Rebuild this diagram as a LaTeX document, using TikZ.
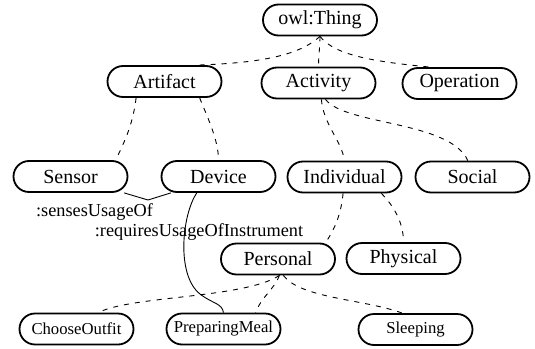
\documentclass[tikz,border=0pt]{standalone}
\usepackage{fontspec}
\setmainfont{Liberation Serif}
\usepackage{tikz}
\usetikzlibrary{calc}
\tikzset{
cls/.style={rectangle,rounded corners=15.5pt,draw,black,line width=1.8pt,align=center,inner sep=0pt,minimum width=114pt,minimum height=31pt,fill=white,anchor=center,font=\fontsize{20}{24}\selectfont},
leaf/.style={cls,font=\fontsize{16.7}{20}\selectfont},
rel/.style={font=\fontsize{18.3}{22}\selectfont,inner sep=0pt},
line/.style={black,line width=0.9pt}
}

\begin{document}
\begin{tikzpicture}[x=1pt,y=-1pt]
    \tikzset{
      isa/.style={line, dash pattern=on 5pt off 6pt},
      uses/.style={line},
    }
    \useasboundingbox (0,0) rectangle (535,348);
    {
      \node[cls](thing) at (320,20) {owl:Thing};
      \node[cls](artifact) at (164.5,81.5) {Artifact};
      \node[cls](activity) at (318.5,83) {Activity};
      \node[cls](operation) at (459.5,83.5) {Operation};
      \node[cls](sensor) at (70.5,176.5) {Sensor};
      \node[cls](device) at (218.5,176.5) {Device};
      \node[cls](individual) at (344.5,177) {Individual};
      \node[cls](social) at (472.5,177) {Social};
      \node[cls](personal) at (278,259) {Personal};
      \node[cls](physical) at (403.5,258.5) {Physical};
      \node[leaf](chooseoutfit) at (76.5,329) {ChooseOutfit};
      \node[leaf](preparingmeal) at (223.5,329) {PreparingMeal};
      \node[leaf](sleeping) at (415.5,329.5) {Sleeping};
      %
      \foreach \u / \v / \ax / \ay / \bx / \by in {
        thing.south/artifact.27/-22/20/60/-2,
        thing.south/activity.north/0/10/0/-10,
        thing.south/operation.151/15/20/-50/-5,
        artifact.-150/sensor.20/-3/25/10/-20,
        artifact.-25/device.north/8/20/0/-20,
        activity.-80/individual.north/2/25/-3/-20,
        activity.-67/social.106/20/26/-18/-40,
        individual.-95/personal.19/-2/20/10/-15,
        individual.-24/physical.north/12/12/0/-20,
        personal.-85/chooseoutfit.37/-35/23/33/-17,
        personal.-85/preparingmeal.27/-6/15/5/-15,
        personal.-72/sleeping.129/17/23/-38/-14}
      \draw[isa] (\u) .. controls +(\ax,\ay) and +(\bx,\by) .. (\v);
      %
      \coordinate (usage) at (148,200);
      \draw[uses] (sensor.-17) -- (usage) -- (device.-161);
      \draw[uses] (device.-143) .. controls (182,215) and (176,275) .. (200,294)
        .. controls (212,303.5) and (222,303) .. (preparingmeal.north);
      \node[rel](senses) at (94.5,212) {:sensesUsageOf};
      \node[rel](requires) at (199,232) {:requiresUsageOfInstrument};
    }
  \end{tikzpicture}
\end{document}
